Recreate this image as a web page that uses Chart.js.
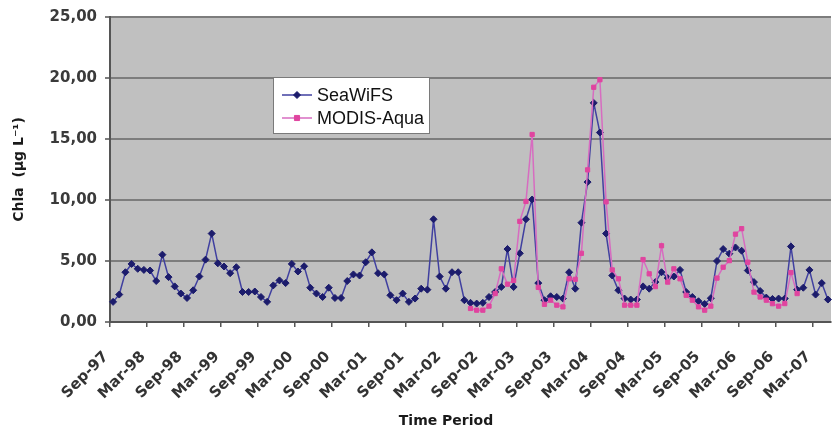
<!DOCTYPE html>
<html>
<head>
<meta charset="utf-8">
<script src="https://cdn.jsdelivr.net/npm/chart.js@4/dist/chart.umd.min.js"></script>
<style>
  html, body { margin: 0; padding: 0; background: #ffffff; }
  #wrap { width: 836px; height: 431px; position: relative; }
</style>
</head>
<body>
<div id="wrap"><canvas id="chl"></canvas></div>
<script>
// Monthly chlorophyll-a, first month Sep-97
const START_YEAR = 1997;
const START_MONTH = 8; // September (0-based)
const MONTH_NAMES = ['Jan','Feb','Mar','Apr','May','Jun','Jul','Aug','Sep','Oct','Nov','Dec'];

const seaWiFS = [
  1.65, 2.25, 4.08, 4.76, 4.36, 4.27, 4.22, 3.36, 5.52, 3.68, 2.92, 2.33,
  1.97, 2.60, 3.73, 5.11, 7.25, 4.81, 4.55, 4.00, 4.49, 2.46, 2.46, 2.50,
  2.05, 1.65, 3.00, 3.41, 3.19, 4.76, 4.14, 4.57, 2.81, 2.33, 2.05, 2.81,
  1.97, 1.97, 3.36, 3.90, 3.81, 4.90, 5.71, 4.00, 3.90, 2.19, 1.79, 2.33,
  1.65, 1.92, 2.73, 2.65, 8.42, 3.73, 2.73, 4.08, 4.08, 1.79, 1.57, 1.51,
  1.57, 2.05, 2.46, 2.87, 5.98, 2.87, 5.63, 8.42, 10.04, 3.19, 1.79, 2.11,
  2.05, 1.92, 4.08, 2.73, 8.14, 11.47, 17.96, 15.53, 7.25, 3.81, 2.60, 1.92,
  1.84, 1.84, 2.92, 2.73, 3.27, 4.08, 3.60, 3.73, 4.27, 2.46, 2.05, 1.70,
  1.48, 1.95, 5.00, 5.98, 5.60, 6.11, 5.84, 4.22, 3.27, 2.54, 2.00, 1.89,
  1.92, 1.92, 6.19, 2.65, 2.81, 4.27, 2.25, 3.19, 1.84
];

// MODIS-Aqua record begins Jul-02 (month index 58)
const MODIS_START = 58;
const modisAqua = [
  1.11, 0.97, 0.97, 1.30, 2.33, 4.36, 3.10, 3.41, 8.25, 9.88, 15.37, 2.84,
  1.45, 1.79, 1.38, 1.24, 3.54, 3.50, 5.63, 12.47, 19.24, 19.86, 9.85, 4.27,
  3.54, 1.38, 1.38, 1.38, 5.12, 3.95, 2.90, 6.25, 3.27, 4.36, 3.54, 2.19,
  1.79, 1.24, 0.97, 1.30, 3.60, 4.49, 5.03, 7.20, 7.65, 4.90, 2.45, 2.05,
  1.79, 1.50, 1.30, 1.51, 4.05, 2.33
];

const yTicks = [0, 5, 10, 15, 20, 25];

// Category labels "Mon-YY"
const months = seaWiFS.map((_, i) => {
  const m = (START_MONTH + i) % 12;
  const y = START_YEAR + Math.floor((START_MONTH + i) / 12);
  return MONTH_NAMES[m] + '-' + String(y % 100).padStart(2, '0');
});

const modisSeries = months.map((_, i) => {
  const k = i - MODIS_START;
  return (k >= 0 && k < modisAqua.length) ? modisAqua[k] : null;
});

const SEA_LINE = '#4040a0', SEA_MARK = '#1c1c6c';
const MOD_LINE = '#d76cc0', MOD_MARK = '#e0449f';

const fmt = v => v.toFixed(2).replace('.', ',');

// gray plotting area
const plotBackground = {
  id: 'plotBackground',
  beforeDraw(chart) {
    const { ctx, chartArea: a } = chart;
    ctx.save();
    ctx.fillStyle = '#c0c0c0';
    ctx.fillRect(a.left, a.top, a.right - a.left, a.bottom - a.top);
    ctx.restore();
  }
};

// boxed legend inside the plot and the horizontal axis title
const overlay = {
  id: 'overlay',
  afterDraw(chart) {
    const ctx = chart.ctx;
    ctx.save();
    const bx = 273, by = 77, bw = 157, bh = 57;
    ctx.fillStyle = '#ffffff';
    ctx.fillRect(bx, by, bw, bh);
    ctx.strokeStyle = '#7a7a7a';
    ctx.lineWidth = 1;
    ctx.strokeRect(bx + 0.5, by + 0.5, bw - 1, bh - 1);
    const entries = chart.data.datasets.slice().sort((a, b) => a.legendIndex - b.legendIndex);
    entries.forEach((ds, i) => {
      const y = 95 + i * 23;
      ctx.strokeStyle = ds.borderColor;
      ctx.lineWidth = 1.5;
      ctx.beginPath();
      ctx.moveTo(282, y);
      ctx.lineTo(312, y);
      ctx.stroke();
      ctx.fillStyle = ds.pointBackgroundColor;
      ctx.strokeStyle = ds.pointBorderColor;
      ctx.lineWidth = 1;
      ctx.beginPath();
      if (ds.pointStyle === 'rectRot') {
        const r = ds.pointRadius;
        ctx.moveTo(297, y - r); ctx.lineTo(297 + r, y); ctx.lineTo(297, y + r); ctx.lineTo(297 - r, y);
      } else {
        const r = ds.pointRadius * 0.85;
        ctx.rect(297 - r, y - r, 2 * r, 2 * r);
      }
      ctx.closePath();
      ctx.fill();
      ctx.stroke();
      ctx.fillStyle = '#111111';
      ctx.font = '18px "Liberation Sans", Arial, sans-serif';
      ctx.textBaseline = 'middle';
      ctx.textAlign = 'left';
      ctx.fillText(ds.label, 317, y + 1);
    });
    ctx.fillStyle = '#1a1a1a';
    ctx.font = 'bold 14px "DejaVu Sans", sans-serif';
    ctx.textAlign = 'center';
    ctx.textBaseline = 'middle';
    ctx.fillText('Time Period', 446, 421);
    ctx.restore();
  }
};

new Chart(document.getElementById('chl'), {
  type: 'line',
  data: {
    labels: months,
    datasets: [
      {
        label: 'MODIS-Aqua',
        legendIndex: 1,
        data: modisSeries,
        borderColor: MOD_LINE,
        backgroundColor: MOD_MARK,
        pointBackgroundColor: MOD_MARK,
        pointBorderColor: MOD_MARK,
        pointStyle: 'rect',
        pointRadius: 3,
        pointBorderWidth: 1,
        borderWidth: 1.5,
        tension: 0,
        spanGaps: false
      },
      {
        label: 'SeaWiFS',
        legendIndex: 0,
        data: seaWiFS,
        borderColor: SEA_LINE,
        backgroundColor: SEA_MARK,
        pointBackgroundColor: SEA_MARK,
        pointBorderColor: SEA_MARK,
        pointStyle: 'rectRot',
        pointRadius: 3.5,
        pointBorderWidth: 1,
        borderWidth: 1.5,
        tension: 0
      }
    ]
  },
  options: {
    responsive: true,
    maintainAspectRatio: false,
    animation: false,
    events: [],
    layout: { padding: { top: 14, right: 0, bottom: 0, left: 0 } },
    plugins: {
      legend: { display: false },
      tooltip: { enabled: false }
    },
    scales: {
      x: {
        type: 'category',
        offset: true,
        border: { display: true, color: '#555555', width: 2 },
        grid: {
          offset: true,
          drawOnChartArea: false,
          drawTicks: true,
          tickLength: 5,
          lineWidth: 1.5,
          color: ctx => (ctx.index % 6 === 0 ? '#555555' : 'rgba(0,0,0,0)')
        },
        ticks: {
          autoSkip: false,
          maxRotation: 45,
          minRotation: 45,
          padding: 21,
          labelOffset: -7,
          color: '#333333',
          font: { family: '"DejaVu Sans", sans-serif', size: 15, weight: 'bold' },
          callback: function (value, index) {
            return index % 6 === 0 ? this.getLabelForValue(value) : '';
          }
        },
        afterFit: s => { s.height = 109; s.paddingRight = 0; }
      },
      y: {
        min: 0,
        max: 25,
        afterBuildTicks: s => { s.ticks = yTicks.map(v => ({ value: v })); },
        border: { display: true, color: '#555555', width: 2 },
        grid: {
          color: '#7d7d7d',
          lineWidth: 2,
          drawTicks: true,
          tickLength: 5
        },
        ticks: {
          padding: 8,
          color: '#3a3a3a',
          font: { family: '"DejaVu Sans", sans-serif', size: 15, weight: 'bold' },
          callback: v => fmt(v)
        },
        title: {
          display: true,
          text: 'Chla  (µg L⁻¹)',
          color: '#1a1a1a',
          font: { family: '"DejaVu Sans", sans-serif', size: 14, weight: 'bold' },
          padding: { top: 11, bottom: 0 }
        },
        afterFit: s => { s.width = 110; }
      }
    }
  },
  plugins: [plotBackground, overlay]
});
</script>
</body>
</html>
